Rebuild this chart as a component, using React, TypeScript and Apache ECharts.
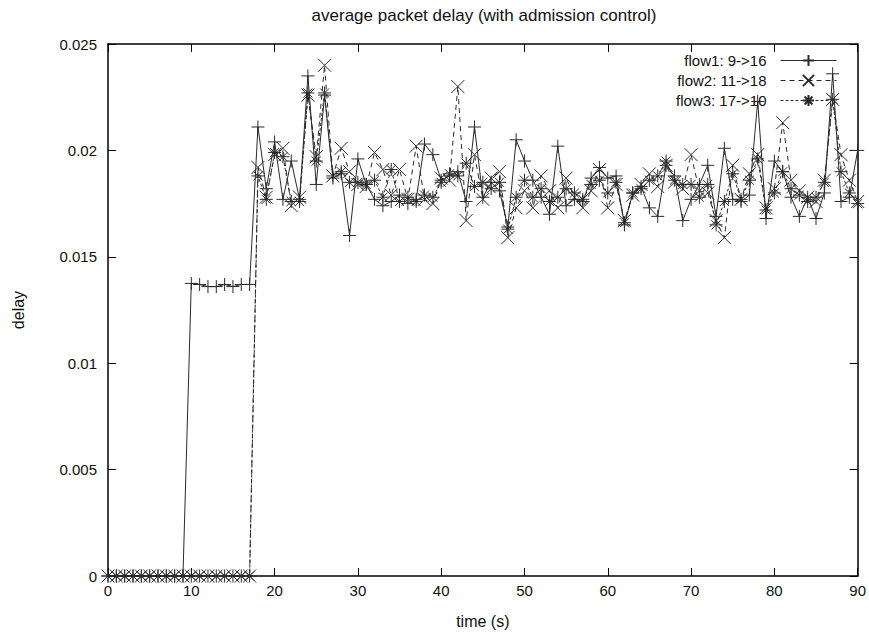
import React, { useEffect, useRef } from "react";
import * as echarts from "echarts";

const times = [
  0, 1, 2, 3, 4, 5, 6, 7, 8, 9, 10, 11, 12, 13, 14, 15, 16, 17, 18, 19, 20,
  21, 22, 23, 24, 25, 26, 27, 28, 29, 30, 31, 32, 33, 34, 35, 36, 37, 38, 39, 40,
  41, 42, 43, 44, 45, 46, 47, 48, 49, 50, 51, 52, 53, 54, 55, 56, 57, 58, 59, 60,
  61, 62, 63, 64, 65, 66, 67, 68, 69, 70, 71, 72, 73, 74, 75, 76, 77, 78, 79, 80,
  81, 82, 83, 84, 85, 86, 87, 88, 89, 90,
];

const flow1 = [
  0, 0, 0, 0, 0, 0, 0, 0, 0, 0,
  0.01375, 0.0137, 0.0136, 0.0136, 0.0137, 0.0136, 0.0137, 0.0137,
  0.0211, 0.0182, 0.0204, 0.0177, 0.0195, 0.0177, 0.0235, 0.0184, 0.0226, 0.0187, 0.0189, 0.016, 0.0196,
  0.0184, 0.0177, 0.0174, 0.0176, 0.0179, 0.0175, 0.0177, 0.0203, 0.0198, 0.0186, 0.0188, 0.019, 0.0176, 0.0211, 0.0178,
  0.0185, 0.0181, 0.0164, 0.0205, 0.0195, 0.0186, 0.0178, 0.017, 0.0202, 0.0174, 0.0177, 0.0176, 0.0187, 0.0192, 0.0187,
  0.0188, 0.0165, 0.018, 0.0183, 0.0173, 0.0169, 0.0193, 0.0188, 0.0167, 0.0177, 0.0184, 0.0193, 0.0169, 0.0201, 0.0177,
  0.0176, 0.0179, 0.0223, 0.0168, 0.0195, 0.019, 0.0178, 0.0169, 0.0178, 0.0168, 0.018, 0.0236, 0.0176, 0.0178, 0.02,
];

const flow2 = [
  0, 0, 0, 0, 0, 0, 0, 0, 0, 0, 0, 0, 0, 0, 0, 0, 0, 0,
  0.0192, 0.0178, 0.0198, 0.0201, 0.0174, 0.0178, 0.0226, 0.0197, 0.024, 0.0188, 0.0201, 0.019, 0.0184,
  0.0183, 0.0199, 0.0191, 0.0179, 0.0191, 0.0177, 0.0202, 0.0177, 0.0175, 0.0187, 0.0186, 0.023, 0.0167, 0.0198, 0.0177,
  0.0187, 0.019, 0.0159, 0.0173, 0.0181, 0.0173, 0.0188, 0.0181, 0.0173, 0.0187, 0.0178, 0.0173, 0.0181, 0.0191, 0.0173,
  0.0184, 0.0167, 0.0179, 0.0184, 0.0189, 0.0183, 0.0193, 0.0185, 0.0182, 0.0198, 0.0181, 0.018, 0.0167, 0.0159, 0.0193,
  0.0177, 0.0189, 0.0198, 0.0173, 0.0182, 0.0213, 0.0186, 0.0181, 0.0178, 0.0176, 0.0186, 0.0224, 0.0198, 0.0186, 0.0176,
];

const flow3 = [
  0, 0, 0, 0, 0, 0, 0, 0, 0, 0, 0, 0, 0, 0, 0, 0, 0, 0,
  0.0188, 0.0177, 0.0199, 0.0197, 0.0176, 0.0176, 0.0227, 0.0195, 0.0227, 0.0188, 0.019, 0.0185, 0.0185,
  0.0184, 0.0186, 0.0178, 0.0191, 0.0176, 0.0178, 0.0176, 0.0179, 0.0178, 0.0185, 0.0189, 0.0188, 0.0194, 0.0183, 0.0185,
  0.0182, 0.0185, 0.0163, 0.0178, 0.0186, 0.0178, 0.0182, 0.0176, 0.0178, 0.0182, 0.018, 0.0177, 0.0184, 0.0186, 0.018,
  0.0185, 0.0166, 0.018, 0.0182, 0.0186, 0.0188, 0.0195, 0.0186, 0.0184, 0.0184, 0.0178, 0.0184, 0.0165, 0.0176, 0.0189,
  0.0177, 0.0186, 0.0196, 0.0172, 0.018, 0.019, 0.0182, 0.0179, 0.0176, 0.0178, 0.0185, 0.0224, 0.019, 0.018, 0.0175,
];

const seriesNames = ["flow1: 9->16", "flow2: 11->18", "flow3: 17->10"];
const titleText = "average packet delay (with admission control)";
const xName = "time (s)";
const yName = "delay";

const FONT = "'Liberation Sans', Arial, Helvetica, sans-serif";
const INK = "#111";

const SYM_PLUS = "path://M0,5L10,5M5,0L5,10";
const SYM_CROSS = "path://M0,0L10,10M10,0L0,10";
const SYM_STAR = "path://M0,5L10,5M5,0L5,10M1.5,1.5L8.5,8.5M8.5,1.5L1.5,8.5";

function pairs(vals: number[]) {
  return times.map((t, i) => [t, vals[i]]);
}

function axisLine() {
  return { show: true, onZero: false, lineStyle: { color: "#000", width: 1.5 } };
}
function tick() {
  return { show: true, inside: true, length: 8, lineStyle: { color: "#000", width: 1 } };
}

export default function App() {
  const ref = useRef<HTMLDivElement>(null);
  useEffect(() => {
    if (!ref.current) return;
    const chart = echarts.init(ref.current, null, { renderer: "svg" });
    const mk = (name: string, vals: number[], symbol: string, type: any, xi: number) => ({
      name,
      type: "line",
      xAxisIndex: 0,
      yAxisIndex: 0,
      data: pairs(vals),
      symbol,
      symbolSize: 13,
      color: "#2a2a2a",
      lineStyle: { color: "#2a2a2a", width: 1, type },
      itemStyle: { color: "#2a2a2a", borderColor: "#2a2a2a", borderWidth: 1 },
      emphasis: { disabled: true },
      clip: false,
      z: 2 + xi,
    });
    chart.setOption({
      animation: false,
      backgroundColor: "#fff",
      textStyle: { fontFamily: FONT },
      title: {
        text: titleText,
        left: 484,
        textAlign: "center",
        top: 7,
        padding: 0,
        textStyle: { fontSize: 17, fontWeight: "normal", color: INK, fontFamily: FONT },
      },
      legend: {
        data: seriesNames,
        orient: "vertical",
        align: "right",
        right: 27,
        top: 48,
        itemWidth: 56,
        itemHeight: 14,
        itemGap: 5,
        selectedMode: false,
        lineStyle: { width: 1 },
        textStyle: { fontSize: 15, color: INK, fontFamily: FONT, padding: [0, 9, 0, 0] },
      },
      grid: { left: 108, right: 11, top: 44, bottom: 58, containLabel: false },
      xAxis: [
        {
          type: "value",
          position: "bottom",
          min: 0,
          max: 90,
          interval: 10,
          axisLine: axisLine(),
          axisTick: tick(),
          splitLine: { show: false },
          axisLabel: { fontSize: 15, color: INK, margin: 7, fontFamily: FONT },
          name: xName,
          nameLocation: "middle",
          nameGap: 37,
          nameTextStyle: { fontSize: 16, color: INK, fontFamily: FONT },
        },
        {
          type: "value",
          position: "top",
          min: 0,
          max: 90,
          interval: 10,
          axisLine: axisLine(),
          axisTick: tick(),
          splitLine: { show: false },
          axisLabel: { show: false },
        },
      ],
      yAxis: [
        {
          type: "value",
          position: "left",
          min: 0,
          max: 0.025,
          interval: 0.005,
          axisLine: axisLine(),
          axisTick: tick(),
          splitLine: { show: false },
          axisLabel: {
            fontSize: 15,
            color: INK,
            margin: 11,
            fontFamily: FONT,
            formatter: (v: number) => String(+v.toFixed(3)),
          },
          name: yName,
          nameLocation: "middle",
          nameRotate: 90,
          nameGap: 82,
          nameTextStyle: { fontSize: 16, color: INK, fontFamily: FONT },
        },
        {
          type: "value",
          position: "right",
          min: 0,
          max: 0.025,
          interval: 0.005,
          axisLine: axisLine(),
          axisTick: tick(),
          splitLine: { show: false },
          axisLabel: { show: false },
        },
      ],
      series: [
        mk(seriesNames[0], flow1, SYM_PLUS, "solid", 0),
        mk(seriesNames[1], flow2, SYM_CROSS, [5, 4], 1),
        mk(seriesNames[2], flow3, SYM_STAR, [3, 2], 2),
      ],
    });
    return () => chart.dispose();
  }, []);
  return (
    <div
      ref={ref}
      style={{ position: "absolute", left: 0, top: 0, width: 869, height: 634, background: "#fff" }}
    />
  );
}
